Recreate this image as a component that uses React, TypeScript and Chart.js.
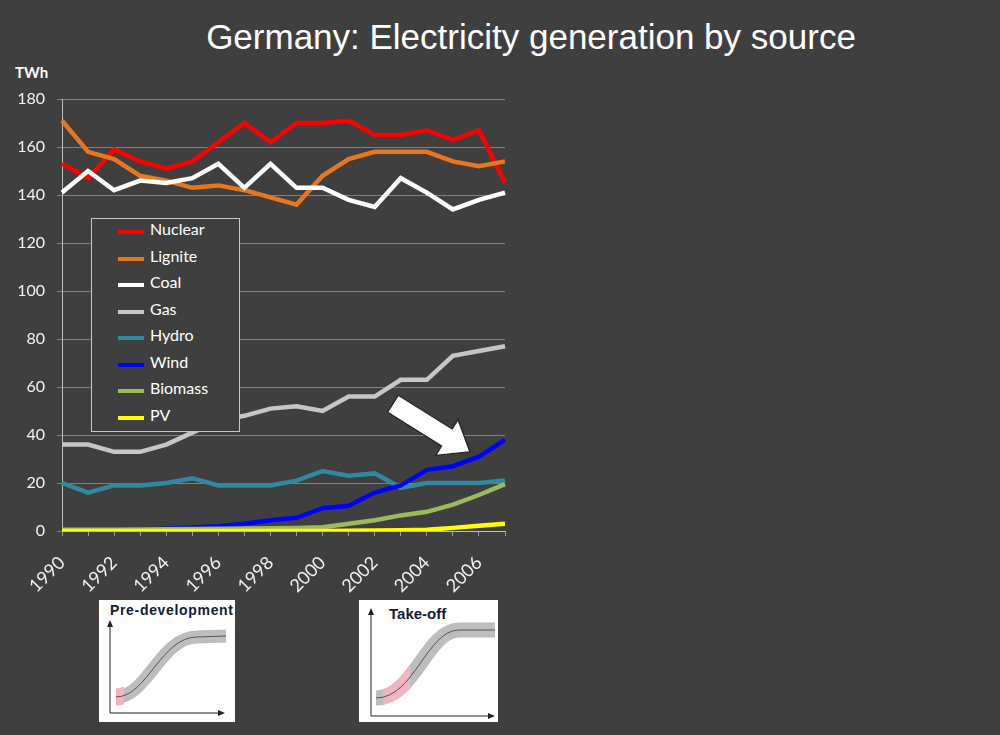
import React, { useEffect, useRef } from "react";
import { Chart, registerables } from "chart.js";

Chart.register(...registerables);

const years = ["1990","1991","1992","1993","1994","1995","1996","1997","1998","1999","2000","2001","2002","2003","2004","2005","2006","2007"];
const nuclear = [153,147,159,154,151,154,162,170,162,170,170,171,165,165,167,163,167,145];
const lignite = [171,158,155,148,146,143,144,142,139,136,148,155,158,158,158,154,152,154];
const coal = [141,150,142,146,145,147,153,143,153,143,143,138,135,147,141,134,138,141];
const gas = [36,36,33,33,36,41,46,48,51,52,50,56,56,63,63,73,75,77];
const hydro = [20,16,19,19,20,22,19,19,19,21,25,23,24,18,20,20,20,21];
const wind = [0,0.1,0.2,0.5,0.9,1.5,2,3,4.5,5.5,9.5,10.5,16,19,25.5,27,31,38];
const biomass = [0.5,0.5,0.5,0.6,0.7,0.8,0.9,1,1.1,1.3,1.6,3,4.5,6.5,8,11,15,19.5];
const pv = [0,0,0,0,0,0,0,0,0,0,0,0.1,0.2,0.3,0.5,1.3,2.2,3];
const yTicks = [0, 20, 40, 60, 80, 100, 120, 140, 160, 180];

const seriesNames = ["Nuclear","Lignite","Coal","Gas","Hydro","Wind","Biomass","PV"];
const seriesData = [nuclear, lignite, coal, gas, hydro, wind, biomass, pv];
const seriesColors = ["#ff0000","#e8761e","#ffffff","#c6c6c6","#31889f","#0000ff","#9bbb59","#ffff00"];

// arrow annotation anchored in data space: [categoryIndex, value]
const arrowTail = [12.7, 53];
const arrowTip = [15.65, 33];

const BG = "#3f3f3f";
const FONT = "Lato, 'Open Sans', sans-serif";

const arrowPlugin = {
  id: "arrowNote",
  afterDatasetsDraw(chart: any) {
    const xs = chart.scales.x;
    const ys = chart.scales.y;
    const ctx = chart.ctx;
    const tx = xs.getPixelForValue(arrowTail[0]);
    const ty = ys.getPixelForValue(arrowTail[1]);
    const px = xs.getPixelForValue(arrowTip[0]);
    const py = ys.getPixelForValue(arrowTip[1]);
    const dx = px - tx, dy = py - ty;
    const len = Math.hypot(dx, dy);
    const ux = dx / len, uy = dy / len;
    const nx = -uy, ny = ux;
    const sw = 10, hw = 21, hl = 27;
    const bx = px - ux * hl, by = py - uy * hl;
    ctx.save();
    ctx.beginPath();
    ctx.moveTo(tx + nx * sw, ty + ny * sw);
    ctx.lineTo(bx + nx * sw, by + ny * sw);
    ctx.lineTo(bx + nx * hw, by + ny * hw);
    ctx.lineTo(px, py);
    ctx.lineTo(bx - nx * hw, by - ny * hw);
    ctx.lineTo(bx - nx * sw, by - ny * sw);
    ctx.lineTo(tx - nx * sw, ty - ny * sw);
    ctx.closePath();
    ctx.fillStyle = "#ffffff";
    ctx.fill();
    ctx.lineWidth = 1.2;
    ctx.strokeStyle = "#222222";
    ctx.stroke();
    ctx.restore();
  },
};

function Inset(props: { left: number; title: string; titleX: number; pinkFrom: number; pinkTo: number; variant: number; id: string }) {
  const { left, title, titleX, pinkFrom, pinkTo, variant, id } = props;
  const curve =
    variant === 0
      ? "M 17 97 C 48 97, 62 37, 98 37 L 127 36"
      : "M 17 98 C 55 98, 68 30, 100 30 L 136 30";
  const axisBottom = variant === 0 ? 113 : 116;
  const axisTop = variant === 0 ? 20 : 8;
  const axisRight = variant === 0 ? 126 : 136;
  const axisX = variant === 0 ? 11 : 12;
  const w = variant === 0 ? 136 : 139;
  return (
    <svg style={{ position: "absolute", left, top: 600 }} width={w} height={122}>
      <rect x={0} y={0} width={w} height={122} fill="#ffffff" />
      <defs>
        <clipPath id={id}>
          <rect x={pinkFrom} y={0} width={pinkTo - pinkFrom} height={122} />
        </clipPath>
      </defs>
      <path d={curve} fill="none" stroke="#bdbdbd" strokeWidth={variant === 0 ? 13 : 15} strokeLinecap="butt" />
      <path d={curve} fill="none" stroke="#f4b3c0" strokeWidth={variant === 0 ? 17 : 15} clipPath={`url(#${id})`} />
      <path d={curve} fill="none" stroke="#555555" strokeWidth={1} />
      <line x1={axisX} y1={axisBottom} x2={axisX} y2={axisTop + 5} stroke="#222" strokeWidth={1} />
      <polygon points={`${axisX - 3},${axisTop + 7} ${axisX + 3},${axisTop + 7} ${axisX},${axisTop}`} fill="#222" />
      <line x1={axisX} y1={axisBottom} x2={axisRight - 5} y2={axisBottom} stroke="#222" strokeWidth={1} />
      <polygon points={`${axisRight - 7},${axisBottom - 3} ${axisRight - 7},${axisBottom + 3} ${axisRight},${axisBottom}`} fill="#222" />
      <text
        x={titleX}
        y={variant === 0 ? 15 : 19}
        fill="#141c33"
        style={{ font: `bold ${variant === 0 ? 14 : 15}px 'Liberation Sans', Arial, sans-serif` }}
        textLength={variant === 0 ? 123 : undefined}
      >
        {title}
      </text>
    </svg>
  );
}

export default function App() {
  const canvasRef = useRef<HTMLCanvasElement | null>(null);

  useEffect(() => {
    document.body.style.margin = "0";
    document.body.style.background = BG;
    const canvas = canvasRef.current;
    if (!canvas) return;
    const n = seriesNames.length;
    const chart = new Chart(canvas, {
      type: "line",
      data: {
        labels: years,
        datasets: seriesNames.map((name, i) => ({
          label: name,
          data: seriesData[i],
          borderColor: seriesColors[i],
          backgroundColor: seriesColors[i],
          borderWidth: 4.5,
          pointRadius: 0,
          pointHoverRadius: 0,
          tension: 0,
          fill: false,
          order: n - i,
          borderJoinStyle: "miter" as const,
        })),
      },
      options: {
        responsive: false,
        animation: false,
        events: [],
        layout: { padding: { left: 0, top: 99, right: 495, bottom: 129 } },
        plugins: {
          legend: { display: false },
          title: { display: false },
          tooltip: { enabled: false },
        },
        scales: {
          x: {
            type: "category",
            offset: false,
            afterFit(scale: any) {
              scale.height = 75;
            },
            border: { display: true, color: "#bfbfbf", width: 1 },
            grid: { display: true, drawOnChartArea: false, drawTicks: true, tickLength: 5, color: "#9a9a9a" },
            ticks: {
              autoSkip: false,
              maxRotation: 45,
              minRotation: 45,
              padding: 16,
              labelOffset: 0,
              color: "#f2f2f2",
              font: { family: FONT, size: 18 },
              callback: (_v: any, i: number) => (i % 2 === 0 ? years[i] : ""),
            },
          },
          y: {
            min: 0,
            max: 180,
            afterFit(scale: any) {
              scale.width = 62;
            },
            afterBuildTicks(scale: any) {
              scale.ticks = yTicks.map((v) => ({ value: v }));
            },
            border: { display: true, color: "#bfbfbf", width: 1 },
            grid: { color: "#808080", lineWidth: 1, tickLength: 5, drawTicks: true },
            ticks: {
              padding: 12,
              color: "#f2f2f2",
              font: { family: FONT, size: 16 },
            },
          },
        },
      },
      plugins: [arrowPlugin],
    });
    return () => chart.destroy();
  }, []);

  return (
    <div style={{ position: "fixed", left: 0, top: 0, width: 1000, height: 735, background: BG, overflow: "hidden" }}>
      <div
        style={{
          position: "absolute",
          left: 0,
          top: 17,
          width: 1062,
          textAlign: "center",
          color: "#ffffff",
          font: "35px 'Liberation Sans', Arial, sans-serif",
          lineHeight: "40px",
          whiteSpace: "nowrap",
        }}
      >
        Germany: Electricity generation by source
      </div>
      <div
        style={{
          position: "absolute",
          left: 15,
          top: 62,
          color: "#ffffff",
          font: `bold 15px ${FONT}`,
          lineHeight: "20px",
        }}
      >
        TWh
      </div>
      <canvas ref={canvasRef} width={1000} height={735} style={{ position: "absolute", left: 0, top: 0, width: 1000, height: 735 }} />
      <div
        style={{
          position: "absolute",
          left: 91,
          top: 218,
          width: 147,
          height: 212,
          border: "1px solid #c8c8c8",
          background: BG,
        }}
      >
        {seriesNames.map((name, i) => (
          <div key={name} style={{ position: "absolute", left: 0, top: i * 26.5, height: 26.5, width: 147 }}>
            <div
              style={{
                position: "absolute",
                left: 26,
                top: 11,
                width: 26,
                height: 4,
                background: seriesColors[i],
              }}
            />
            <div
              style={{
                position: "absolute",
                left: 58,
                top: 0,
                lineHeight: "26px",
                color: "#ffffff",
                font: `16px ${FONT}`,
                whiteSpace: "nowrap",
              }}
            >
              {name}
            </div>
          </div>
        ))}
      </div>
      <Inset left={99} title="Pre-development" titleX={11} pinkFrom={14} pinkTo={25} variant={0} id="clipA" />
      <Inset left={359} title="Take-off" titleX={30} pinkFrom={24} pinkTo={51} variant={1} id="clipB" />
    </div>
  );
}
